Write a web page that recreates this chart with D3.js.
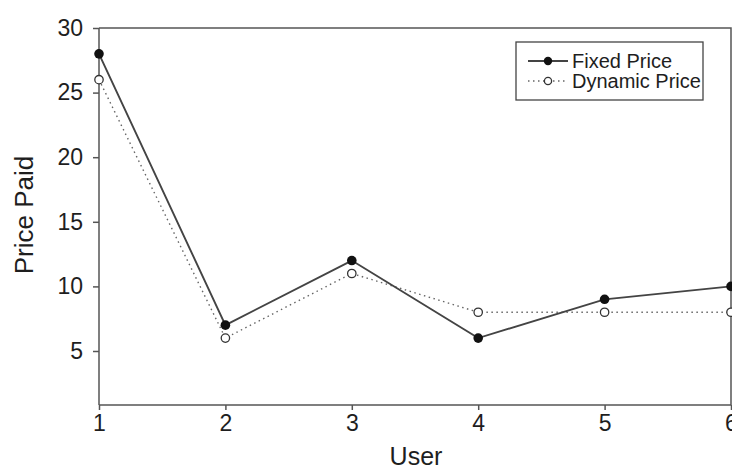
<!DOCTYPE html>
<html>
<head>
<meta charset="utf-8">
<script src="https://cdn.jsdelivr.net/npm/d3@7"></script>
<style>
  html, body { margin: 0; padding: 0; background: #fff; }
  svg { display: block; font-family: "Liberation Sans", Arial, Helvetica, sans-serif; }
</style>
</head>
<body>
<svg id="chart" width="732" height="466"></svg>
<script>
// Price paid per user under two pricing schemes
const users = [1, 2, 3, 4, 5, 6];
const fixedPrice = [28, 7, 12, 6, 9, 10];
const dynamicPrice = [26, 6, 11, 8, 8, 8];
const yTicks = [5, 10, 15, 20, 25, 30];
const seriesNames = ["Fixed Price", "Dynamic Price"];

const svg = d3.select("#chart");
const plotLeft = 99, plotRight = 731, plotTop = 28, plotBottom = 405;
const axisColor = "#555";
const textColor = "#1e1e1e";
const fontFamily = "Liberation Sans, Arial, sans-serif";

const x = d3.scaleLinear().domain([1, 6]).range([plotLeft, plotRight]);
const y = d3.scaleLinear().domain([0.82, 30]).range([plotBottom, plotTop]);

// Frame (top and right sides)
svg.append("path")
  .attr("d", `M${plotLeft},${plotTop}H${plotRight}V${plotBottom}`)
  .attr("fill", "none").attr("stroke", axisColor).attr("stroke-width", 1.5);

// Y axis
const yAxis = svg.append("g").attr("transform", `translate(${plotLeft},0)`)
  .call(d3.axisLeft(y).tickValues(yTicks).tickSize(6).tickPadding(10));
yAxis.select(".domain").attr("stroke", axisColor).attr("stroke-width", 1.5)
  .attr("d", `M0,${plotTop}V${plotBottom}`);
yAxis.selectAll(".tick line").attr("stroke", axisColor).attr("stroke-width", 1.5);
yAxis.selectAll(".tick text").attr("font-size", 23).attr("fill", textColor)
  .attr("font-family", fontFamily);

// X axis
const xAxis = svg.append("g").attr("transform", `translate(0,${plotBottom})`)
  .call(d3.axisBottom(x).tickValues(users).tickFormat(d3.format("d")).tickSize(5).tickPadding(5));
xAxis.select(".domain").attr("stroke", axisColor).attr("stroke-width", 1.5)
  .attr("d", `M${plotLeft},0H${plotRight}`);
xAxis.selectAll(".tick line").attr("stroke", axisColor).attr("stroke-width", 1.5);
xAxis.selectAll(".tick text").attr("font-size", 23).attr("fill", textColor)
  .attr("font-family", fontFamily);

// Axis titles
svg.append("text")
  .attr("transform", `translate(33,215) rotate(-90)`)
  .attr("text-anchor", "middle").attr("font-size", 26).attr("fill", textColor)
  .text("Price Paid");
svg.append("text")
  .attr("x", 416).attr("y", 465)
  .attr("text-anchor", "middle").attr("font-size", 25).attr("fill", textColor)
  .text("User");

const line = d3.line().x((d, i) => x(users[i])).y(d => y(d));

// Dynamic price: dotted line, open circles
svg.append("path").datum(dynamicPrice)
  .attr("d", line).attr("fill", "none")
  .attr("stroke", "#666").attr("stroke-width", 1.4).attr("stroke-dasharray", "1.5,3.5");
svg.selectAll(".dyn").data(dynamicPrice).join("circle")
  .attr("class", "dyn")
  .attr("cx", (d, i) => x(users[i])).attr("cy", d => y(d)).attr("r", 4.2)
  .attr("fill", "#fff").attr("stroke", "#333").attr("stroke-width", 1.3);

// Fixed price: solid line, filled circles
svg.append("path").datum(fixedPrice)
  .attr("d", line).attr("fill", "none")
  .attr("stroke", "#444").attr("stroke-width", 1.9);
svg.selectAll(".fix").data(fixedPrice).join("circle")
  .attr("class", "fix")
  .attr("cx", (d, i) => x(users[i])).attr("cy", d => y(d)).attr("r", 4.8)
  .attr("fill", "#111");

// Legend
const lg = svg.append("g");
lg.append("rect").attr("x", 516).attr("y", 42).attr("width", 187).attr("height", 58)
  .attr("fill", "#fff").attr("stroke", "#444").attr("stroke-width", 1.3);
const rows = [
  { name: seriesNames[0], y: 61, dash: null, fill: "#111", stroke: "none", lineColor: "#444" },
  { name: seriesNames[1], y: 81, dash: "1.5,3.5", fill: "#fff", stroke: "#333", lineColor: "#666" }
];
rows.forEach(r => {
  lg.append("line").attr("x1", 528).attr("x2", 568).attr("y1", r.y).attr("y2", r.y)
    .attr("stroke", r.lineColor).attr("stroke-width", r.dash ? 1.3 : 1.8)
    .attr("stroke-dasharray", r.dash);
  lg.append("circle").attr("cx", 548).attr("cy", r.y).attr("r", r.dash ? 3.6 : 4.2)
    .attr("fill", r.fill).attr("stroke", r.stroke).attr("stroke-width", 1.3);
  lg.append("text").attr("x", 572).attr("y", r.y + 7)
    .attr("font-size", 20).attr("fill", textColor).text(r.name);
});
</script>
</body>
</html>
